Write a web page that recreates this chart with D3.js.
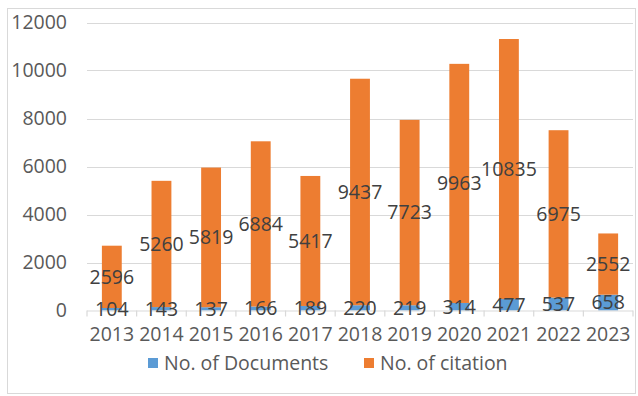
<!DOCTYPE html>
<html>
<head>
<meta charset="utf-8">
<script src="https://cdn.jsdelivr.net/npm/d3@7"></script>
<style>
  body { margin: 0; background: #fff; }
  text { font-family: 'Open Sans', sans-serif; }
</style>
</head>
<body>
<script>
(function () {
  'use strict'

  var years = ['2013', '2014', '2015', '2016', '2017', '2018', '2019', '2020', '2021', '2022', '2023']
  var documents = [104, 143, 137, 166, 189, 220, 219, 314, 477, 537, 658]
  var citations = [2596, 5260, 5819, 6884, 5417, 9437, 7723, 9963, 10835, 6975, 2552]
  var yTicks = [0, 2000, 4000, 6000, 8000, 10000, 12000]
  var seriesNames = ['No. of Documents', 'No. of citation']
  var colors = ['#5b9bd5', '#ed7d31']

  var W = 638
  var H = 396
  var m = { left: 87, right: 5, top: 22.5, bottom: 85.5 }

  var svg = d3.select('body').append('svg')
    .attr('width', W).attr('height', H)

  // outer frame
  svg.append('rect')
    .attr('x', 7.5).attr('y', 8.5)
    .attr('width', 628).attr('height', 385)
    .attr('fill', 'none').attr('stroke', '#d9d9d9')

  var x = d3.scaleBand().domain(years)
    .range([m.left, W - m.right]).paddingInner(0.6).paddingOuter(0.3)
  var y = d3.scaleLinear().domain([0, 12000]).range([H - m.bottom, m.top])

  var rows = years.map(function (yr, i) {
    return { year: yr, docs: documents[i], cites: citations[i] }
  })
  var stack = d3.stack().keys(['docs', 'cites'])(rows)

  // gridlines
  svg.append('g').selectAll('line').data(yTicks.slice(1)).enter().append('line')
    .attr('x1', m.left).attr('x2', W - m.right)
    .attr('y1', function (d) { return Math.round(y(d)) + 0.5 })
    .attr('y2', function (d) { return Math.round(y(d)) + 0.5 })
    .attr('stroke', '#d9d9d9').attr('stroke-width', 1.2)

  // y tick labels
  svg.append('g').selectAll('text').data(yTicks).enter().append('text')
    .attr('x', 67).attr('y', function (d) { return y(d) })
    .attr('dy', '0.35em').attr('text-anchor', 'end')
    .attr('font-size', 19.5).attr('fill', '#595959')
    .text(function (d) { return d })

  // bars
  svg.append('g').selectAll('g').data(stack).enter().append('g')
    .attr('fill', function (d, i) { return colors[i] })
    .selectAll('rect').data(function (d) { return d }).enter().append('rect')
    .attr('x', function (d) { return x(d.data.year) })
    .attr('width', x.bandwidth())
    .attr('y', function (d) { return y(d[1]) })
    .attr('height', function (d) { return y(d[0]) - y(d[1]) })

  // x axis
  var step = x.step()
  var x0 = m.left
  var axis = svg.append('g')
  axis.append('line')
    .attr('x1', x0).attr('x2', W - m.right)
    .attr('y1', y(0) + 0.5).attr('y2', y(0) + 0.5)
    .attr('stroke', '#d9d9d9').attr('stroke-width', 1.2)
  axis.selectAll('.tick').data(d3.range(years.length + 1)).enter().append('line')
    .attr('x1', function (i) { return x0 + i * step })
    .attr('x2', function (i) { return x0 + i * step })
    .attr('y1', y(0)).attr('y2', y(0) + 6)
    .attr('stroke', '#d9d9d9').attr('stroke-width', 1.2)
  axis.selectAll('text').data(years).enter().append('text')
    .attr('x', function (d) { return x(d) + x.bandwidth() / 2 })
    .attr('y', y(0) + 30)
    .attr('text-anchor', 'middle')
    .attr('font-size', 19.5).attr('fill', '#595959')
    .text(function (d) { return d })

  // data labels
  svg.append('g').selectAll('g').data(stack).enter().append('g')
    .selectAll('text').data(function (d) { return d }).enter().append('text')
    .attr('x', function (d) { return x(d.data.year) + x.bandwidth() / 2 })
    .attr('y', function (d) { return y((d[0] + d[1]) / 2) })
    .attr('dy', '0.35em').attr('text-anchor', 'middle')
    .attr('font-size', 19.5).attr('fill', '#404040')
    .text(function (d) { return d[1] - d[0] })

  // legend
  var legend = svg.append('g')
  var lx = [148, 364]
  seriesNames.forEach(function (name, i) {
    legend.append('rect')
      .attr('x', lx[i]).attr('y', 358)
      .attr('width', 10).attr('height', 10)
      .attr('fill', colors[i])
    legend.append('text')
      .attr('x', lx[i] + 16).attr('y', 363)
      .attr('dy', '0.35em')
      .attr('font-size', 19.5).attr('fill', '#595959')
      .text(name)
  })
}())
</script>
</body>
</html>
